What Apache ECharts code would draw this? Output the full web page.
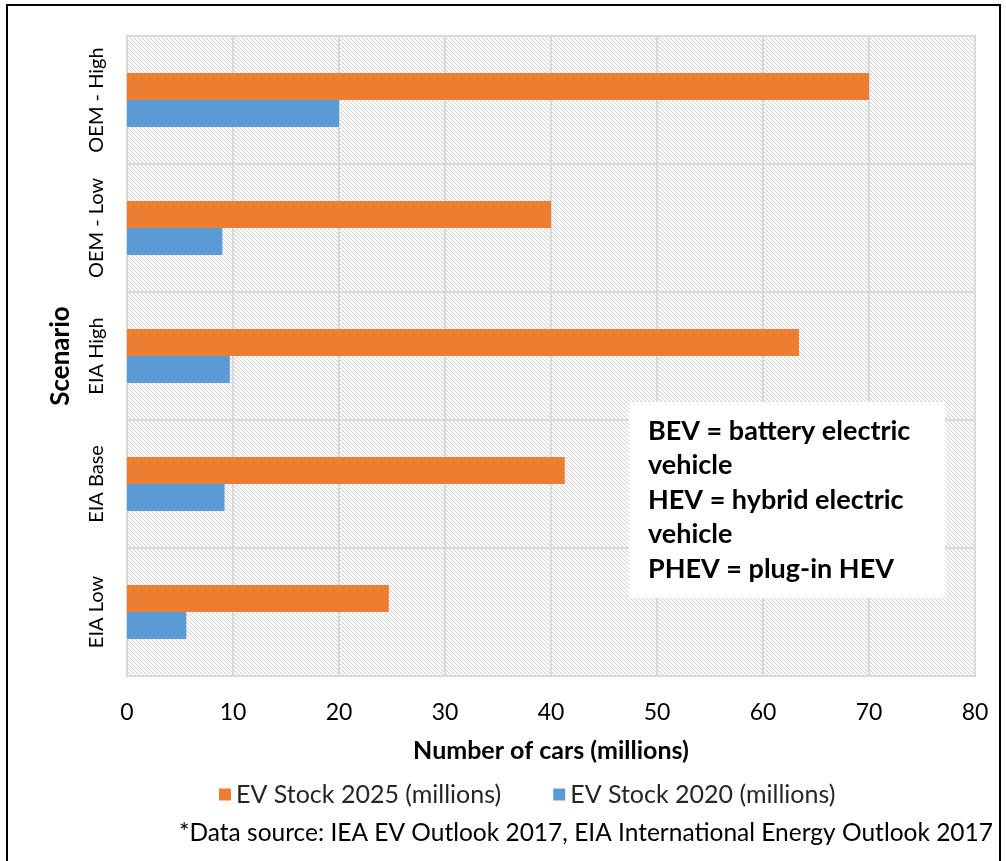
<!DOCTYPE html>
<html>
<head>
<meta charset="utf-8">
<script src="https://cdn.jsdelivr.net/npm/echarts@6/dist/echarts.min.js"></script>
<style>
  html, body { margin: 0; padding: 0; background: #fff; }
  #chart { width: 1006px; height: 861px; }
</style>
</head>
<body>
<div id="chart"></div>
<script>
// Scenarios, bottom to top along the category axis
const scenarios = ['EIA Low', 'EIA Base', 'EIA High', 'OEM - Low', 'OEM - High'];
// EV stock, millions of cars
const stock2025 = [24.7, 41.3, 63.4, 40.0, 70.0];
const stock2020 = [5.6, 9.2, 9.7, 9.0, 20.0];
const xTicks = { min: 0, max: 80, interval: 10 };

const FONT = 'Lato, "Open Sans", sans-serif';

// Light diagonal hatch for the plot background
function hatchTile() {
  const c = document.createElement('canvas');
  c.width = 8; c.height = 8;
  const g = c.getContext('2d');
  g.fillStyle = '#ffffff';
  g.fillRect(0, 0, 8, 8);
  g.fillStyle = '#d4d4d4';
  for (let y = 0; y < 8; y++) {
    g.fillRect(y, y, 1, 1);
    g.fillRect((y + 4) % 8, y, 1, 1);
  }
  g.fillStyle = '#f0f0f0';
  for (let y = 0; y < 8; y++) {
    g.fillRect((y + 1) % 8, y, 1, 1);
    g.fillRect((y + 5) % 8, y, 1, 1);
  }
  return c;
}

const chart = echarts.init(document.getElementById('chart'), null, { renderer: 'canvas' });

chart.setOption({
  animation: false,
  backgroundColor: '#ffffff',
  grid: {
    left: 127, right: 31, top: 36, bottom: 185,
    show: true,
    backgroundColor: { image: hatchTile(), repeat: 'repeat' },
    borderColor: '#d9d9d9',
    borderWidth: 2
  },
  legend: {
    top: 777,
    left: 214,
    icon: 'rect',
    itemWidth: 12,
    itemHeight: 12,
    itemGap: 52,
    textStyle: { fontFamily: FONT, fontSize: 25, color: '#262626' }
  },
  xAxis: {
    type: 'value',
    min: xTicks.min, max: xTicks.max, interval: xTicks.interval,
    name: 'Number of cars (millions)',
    nameLocation: 'middle',
    nameGap: 62,
    nameTextStyle: { fontFamily: FONT, fontSize: 25, fontWeight: 'bold', color: '#000' },
    axisLine: { show: false },
    axisTick: { show: false },
    axisLabel: { margin: 25, fontFamily: FONT, fontSize: 23, color: '#000' },
    splitLine: { show: true, lineStyle: { color: '#d9d9d9', width: 2 } }
  },
  yAxis: {
    type: 'category',
    data: scenarios,
    name: 'Scenario',
    nameLocation: 'middle',
    nameGap: 53,
    nameRotate: 90,
    nameTextStyle: { fontFamily: FONT, fontSize: 26, fontWeight: 'bold', color: '#000' },
    axisLine: { show: true, lineStyle: { color: '#d9d9d9', width: 2 } },
    axisTick: { show: false },
    axisLabel: { rotate: 90, interval: 0, margin: 20, fontFamily: FONT, fontSize: 20, color: '#000' },
    splitLine: { show: true, interval: 0, lineStyle: { color: '#d9d9d9', width: 2 } }
  },
  series: [
    {
      name: 'EV Stock 2025 (millions)',
      type: 'bar',
      data: stock2025,
      barWidth: 27,
      barGap: '0%',
      itemStyle: { color: '#ed7d31' }
    },
    {
      name: 'EV Stock 2020 (millions)',
      type: 'bar',
      data: stock2020,
      barWidth: 27,
      barGap: '0%',
      itemStyle: { color: '#5b9bd5' }
    }
  ],
  graphic: [
    {
      type: 'rect',
      shape: { x: 7, y: 5, width: 993, height: 880 },
      style: { fill: 'none', stroke: '#000', lineWidth: 2 },
      silent: true
    },
    {
      type: 'rect',
      shape: { x: 629, y: 402, width: 316, height: 196 },
      style: { fill: '#ffffff' },
      z: 10
    },
    {
      type: 'text',
      left: 648,
      top: 414,
      z: 11,
      style: {
        text: 'BEV = battery electric\nvehicle\nHEV = hybrid electric\nvehicle\nPHEV = plug-in HEV',
        fontFamily: FONT,
        fontSize: 27,
        fontWeight: 'bold',
        lineHeight: 34.5,
        fill: '#000'
      }
    },
    {
      type: 'text',
      right: 13,
      top: 821,
      style: {
        text: '*Data source: IEA EV Outlook 2017, EIA International Energy Outlook 2017',
        fontFamily: FONT,
        fontSize: 24.5,
        fill: '#000'
      }
    }
  ]
});
</script>
</body>
</html>
